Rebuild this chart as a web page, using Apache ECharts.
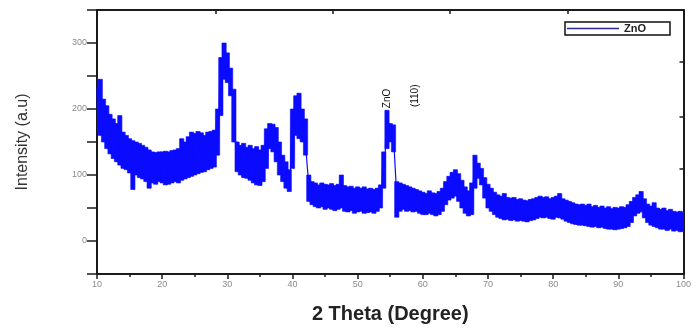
<!DOCTYPE html>
<html>
<head>
<meta charset="utf-8">
<script src="https://cdn.jsdelivr.net/npm/echarts@6/dist/echarts.min.js"></script>
<style>html,body{margin:0;padding:0;background:#fff}#c{width:694px;height:329px}</style>
</head>
<body>
<div id="c"></div>
<script>
// 2θ grid: 10 → 100 by 0.5°; upper / lower edge of the noisy band
const thetaStart = 10, thetaStep = 0.5;
const upper = [
  232,245,215,205,192,185,178,190,165,160,
  155,152,150,148,145,142,138,135,134,135,
  135,136,135,137,138,140,155,150,158,165,
  163,166,164,160,165,166,168,200,278,300,
  285,262,230,150,145,148,142,145,140,143,
  138,145,170,178,177,172,150,130,120,108,
  200,220,224,200,185,100,90,88,85,88,
  86,85,87,84,86,100,84,82,83,80,
  82,80,82,79,80,78,80,85,135,198,
  178,176,90,88,86,84,82,80,78,76,
  74,72,76,73,72,75,80,90,98,104,
  108,102,92,82,76,88,130,118,110,96,
  86,80,74,70,68,72,66,65,66,63,
  64,62,61,63,64,66,68,66,67,64,
  66,68,72,64,62,60,58,56,55,56,
  54,56,52,54,51,53,50,52,49,51,
  50,52,51,55,60,66,70,75,64,56,
  53,58,50,48,50,46,48,45,44,45,
  43
];
const lower = [
  165,160,150,140,132,125,120,115,110,108,
  103,78,100,96,94,90,80,88,86,90,
  88,85,86,88,90,88,92,94,96,98,
  100,102,104,105,108,110,112,130,190,245,
  240,220,150,105,100,96,95,92,88,85,
  84,90,110,140,135,120,100,90,80,75,
  110,160,155,150,130,60,55,52,50,52,
  48,50,48,46,48,50,45,44,46,42,
  44,45,42,43,44,42,45,50,80,140,
  150,135,36,45,48,45,46,44,45,42,
  40,40,42,40,38,40,45,55,62,65,
  68,60,50,42,38,40,80,95,85,65,
  50,45,40,36,34,32,33,31,32,30,
  31,30,29,31,32,34,36,35,36,34,
  33,36,35,33,30,28,26,25,24,24,
  23,22,21,22,20,21,19,18,18,17,
  18,19,20,22,28,38,42,44,35,28,
  24,22,20,18,18,16,18,15,16,14,
  15
];
const seriesName = 'ZnO';
const yTickLabels = [0, 100, 200, 300];
const annotations = [
  { text: 'ZnO', x: 54.6, y: 216 },
  { text: '(110)', x: 58.9, y: 220 }
];
const topTicks = [28.2, 46.2, 64.2, 82.2];
const rightTicks = [30, 110, 189, 271];

const lineData = [];
const cells = [];
for (let i = 0; i < upper.length; i++) {
  const x = thetaStart + thetaStep * i;
  lineData.push([x, upper[i]]);
  lineData.push([Math.min(100, x + thetaStep / 2), lower[i]]);
  cells.push([x, upper[i], lower[i]]);
}

const BLUE = '#0b0bff';
const chart = echarts.init(document.getElementById('c'), null, { renderer: 'canvas' });
const axisLineStyle = { color: '#1a1a1a', width: 2 };
chart.setOption({
  animation: false,
  backgroundColor: '#ffffff',
  grid: { left: 97, right: 9, top: 10, bottom: 54, containLabel: false },
  legend: {
    show: true,
    data: [{ name: seriesName, icon: 'rect', itemStyle: { color: '#2a2a90' } }],
    left: 565, top: 22,
    orient: 'horizontal',
    itemWidth: 52, itemHeight: 1.5,
    padding: [1, 24, 1, 2],
    borderColor: '#111', borderWidth: 1.5,
    textStyle: { fontFamily: 'Liberation Sans', fontSize: 11, fontWeight: 'bold', color: '#222' }
  },
  xAxis: [
    {
      type: 'value', min: 10, max: 100, interval: 10, position: 'bottom',
      name: '2 Theta (Degree)', nameLocation: 'middle', nameGap: 30,
      nameTextStyle: { fontFamily: 'Liberation Sans', fontSize: 20, fontWeight: 'bold', color: '#222' },
      axisLine: { show: true, onZero: false, lineStyle: axisLineStyle },
      axisTick: { show: true, inside: false, length: 5, lineStyle: { color: '#1a1a1a', width: 1.5 } },
      minorTick: { show: true, splitNumber: 2, length: 3, lineStyle: { color: '#1a1a1a', width: 1.5 } },
      axisLabel: { fontFamily: 'Liberation Sans', fontSize: 9, color: '#8a8a8a', margin: 6 },
      splitLine: { show: false }
    },
    {
      type: 'value', min: 10, max: 100, position: 'top',
      axisLine: { show: true, onZero: false, lineStyle: axisLineStyle },
      axisTick: { show: true, inside: true, length: 4, customValues: topTicks, lineStyle: { color: '#1a1a1a', width: 1.5 } },
      axisLabel: { show: false },
      splitLine: { show: false }
    }
  ],
  yAxis: [
    {
      type: 'value', min: -50, max: 350, interval: 50, position: 'left',
      name: 'Intensity (a.u)', nameLocation: 'middle', nameGap: 66,
      nameTextStyle: { fontFamily: 'Liberation Sans', fontSize: 16, color: '#333' },
      axisLine: { show: true, onZero: false, lineStyle: axisLineStyle },
      axisTick: { show: true, inside: false, length: 10, lineStyle: { color: '#1a1a1a', width: 1.5 } },
      axisLabel: {
        fontFamily: 'Liberation Sans', fontSize: 9, color: '#8a8a8a', margin: 10,
        formatter: v => (yTickLabels.indexOf(v) >= 0 ? String(v) : '')
      },
      splitLine: { show: false }
    },
    {
      type: 'value', min: -50, max: 350, position: 'right',
      axisLine: { show: true, onZero: false, lineStyle: axisLineStyle },
      axisTick: { show: true, inside: true, length: 4, customValues: rightTicks, lineStyle: { color: '#1a1a1a', width: 1.5 } },
      axisLabel: { show: false },
      splitLine: { show: false }
    }
  ],
  series: [
    {
      name: seriesName,
      type: 'custom',
      xAxisIndex: 0, yAxisIndex: 0,
      clip: true,
      encode: { x: 0, y: [1, 2] },
      data: cells,
      renderItem: (params, api) => {
        const x = api.value(0);
        const p1 = api.coord([x - thetaStep / 2, api.value(1)]);
        const p2 = api.coord([x + thetaStep / 2, api.value(2)]);
        return {
          type: 'rect',
          shape: { x: p1[0] - 0.5, y: p1[1], width: p2[0] - p1[0] + 1, height: p2[1] - p1[1] },
          style: { fill: BLUE, stroke: BLUE, lineWidth: 0.6 }
        };
      }
    },
    {
      name: seriesName,
      type: 'line',
      xAxisIndex: 0, yAxisIndex: 0,
      data: lineData,
      step: 'middle',
      symbol: 'none',
      lineStyle: { color: BLUE, width: 1.2 },
      itemStyle: { color: BLUE },
      markPoint: {
        symbol: 'circle', symbolSize: 0,
        label: {
          show: true, rotate: 90, position: 'inside',
          fontFamily: 'Liberation Sans', fontSize: 10, color: '#111',
          formatter: p => p.name
        },
        data: annotations.map(a => ({ name: a.text, coord: [a.x, a.y] }))
      }
    }
  ]
});
</script>
</body>
</html>
